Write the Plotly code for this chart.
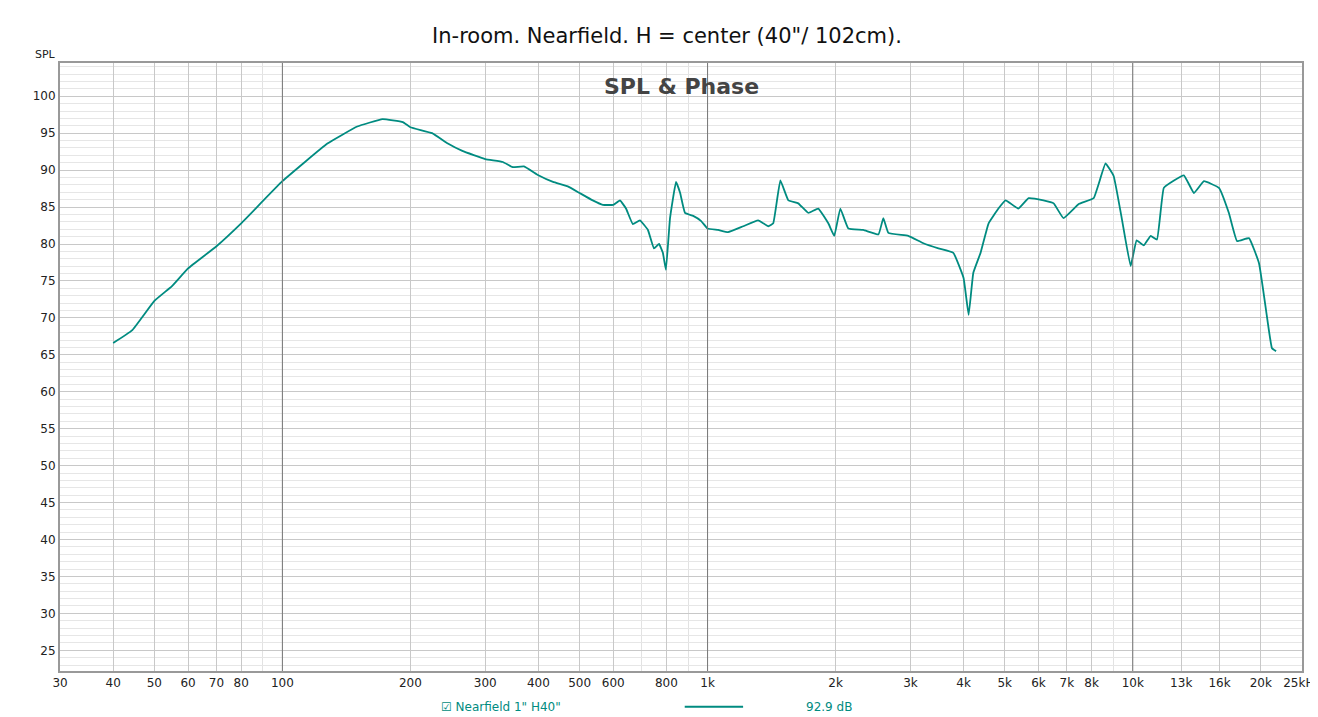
import plotly.graph_objects as go

freq = [40,44.3,50,55,60,70,80,100,127.6,150,172,192,200,225,245,265,300,330,348,370,400,433,469,500,537,567,600,622,643,667,693,724,748,769,785,798,816,843,862,885,925,966,1000,1059,1117,1213,1315,1390,1427,1483,1549,1634,1726,1821,1923,1986,2052,2143,2323,2523,2590,2662,2965,3218,3491,3784,4000,4111,4217,4385,4581,4831,5023,5383,5689,6166,6516,6871,7464,8091,8630,9016,9419,9886,10210,10610,11020,11400,11830,12500,13190,13930,14700,15950,16830,17590,18760,19810,20700,21250,21730]
spl = [66.6,68.3,72.3,74.3,76.7,79.7,82.8,88.5,93.6,95.9,96.9,96.5,95.8,95.0,93.6,92.6,91.5,91.1,90.4,90.5,89.3,88.4,87.8,86.9,85.9,85.3,85.3,85.9,84.8,82.7,83.2,81.9,79.4,80.0,78.8,76.5,83.5,88.4,86.9,84.2,83.8,83.1,82.1,81.9,81.6,82.4,83.2,82.4,82.8,88.6,85.9,85.5,84.2,84.8,82.8,81.1,84.8,82.1,81.9,81.3,83.5,81.5,81.1,80.1,79.4,78.8,75.4,70.4,76.1,78.8,82.8,84.8,85.9,84.8,86.2,85.9,85.5,83.5,85.4,86.2,90.9,89.2,83.5,77.0,80.5,79.8,81.1,80.6,87.6,88.6,89.3,86.9,88.5,87.6,84.2,80.4,80.8,77.4,70.0,65.9,65.5]

tickvals = [30,40,50,60,70,80,100,200,300,400,500,600,800,1000,2000,3000,4000,5000,6000,7000,8000,10000,13000,16000,20000,25000]
ticktext = ["30","40","50","60","70","80","100","200","300","400","500","600","800","1k","2k","3k","4k","5k","6k","7k","8k","10k","13k","16k","20k","25kHz"]
yticks = list(range(25, 101, 5))
teal = "#008b80"

fig = go.Figure()
fig.add_trace(go.Scatter(x=freq, y=spl, mode="lines", line=dict(color=teal, width=1.8, shape="spline", smoothing=0.3), showlegend=False))

fig.update_layout(
    width=1318, height=717, margin=dict(l=52, r=24, t=55, b=54, autoexpand=False),
    plot_bgcolor="white", paper_bgcolor="white",
    font=dict(family="DejaVu Sans", size=12, color="#222"),
    title=dict(text="In-room. Nearfield. H = center (40\"/ 102cm).", x=0.5, y=0.972, xanchor="center", font=dict(size=21, color="#111")),
)
fig.update_xaxes(type="log", range=[1.477, 4.398], tickvals=tickvals, ticktext=ticktext, automargin=False,
                 showgrid=True, gridcolor="#c8c8c8", gridwidth=1,
                 minor=dict(showgrid=True, gridcolor="#e2e2e2", dtick="D1"),
                 showline=True, linecolor="#999", linewidth=2, mirror=True, ticks="", tickfont=dict(size=12))
fig.update_yaxes(range=[22.2, 104.5], tickvals=yticks, showgrid=True, gridcolor="#c8c8c8", automargin=False,
                 minor=dict(showgrid=True, gridcolor="#e6e6e6", dtick=1),
                 showline=True, linecolor="#999", linewidth=2, mirror=True, ticks="", zeroline=False, tickfont=dict(size=12))
for v in [100, 1000, 10000]:
    fig.add_vline(x=v, line=dict(color="#777", width=1))

fig.add_annotation(text="<b>SPL & Phase</b>", xref="paper", yref="paper", x=0.5, y=0.985, yanchor="top", showarrow=False, font=dict(size=22, color="#444"))
fig.add_annotation(text="SPL", xref="paper", yref="paper", x=-0.012, y=1.0, yanchor="bottom", xanchor="center", showarrow=False, font=dict(size=11))
fig.add_annotation(text="☑ Nearfield 1\" H40\"", xref="paper", yref="paper", x=0.305, y=-0.059, xanchor="left", yanchor="middle", showarrow=False, font=dict(size=12, color=teal))
fig.add_annotation(text="92.9 dB", xref="paper", yref="paper", x=0.599, y=-0.059, xanchor="left", yanchor="middle", showarrow=False, font=dict(size=12, color=teal))
fig.add_shape(type="line", xref="paper", yref="paper", x0=0.503, x1=0.55, y0=-0.059, y1=-0.059, line=dict(color=teal, width=2))
fig.write_html("out.html")
